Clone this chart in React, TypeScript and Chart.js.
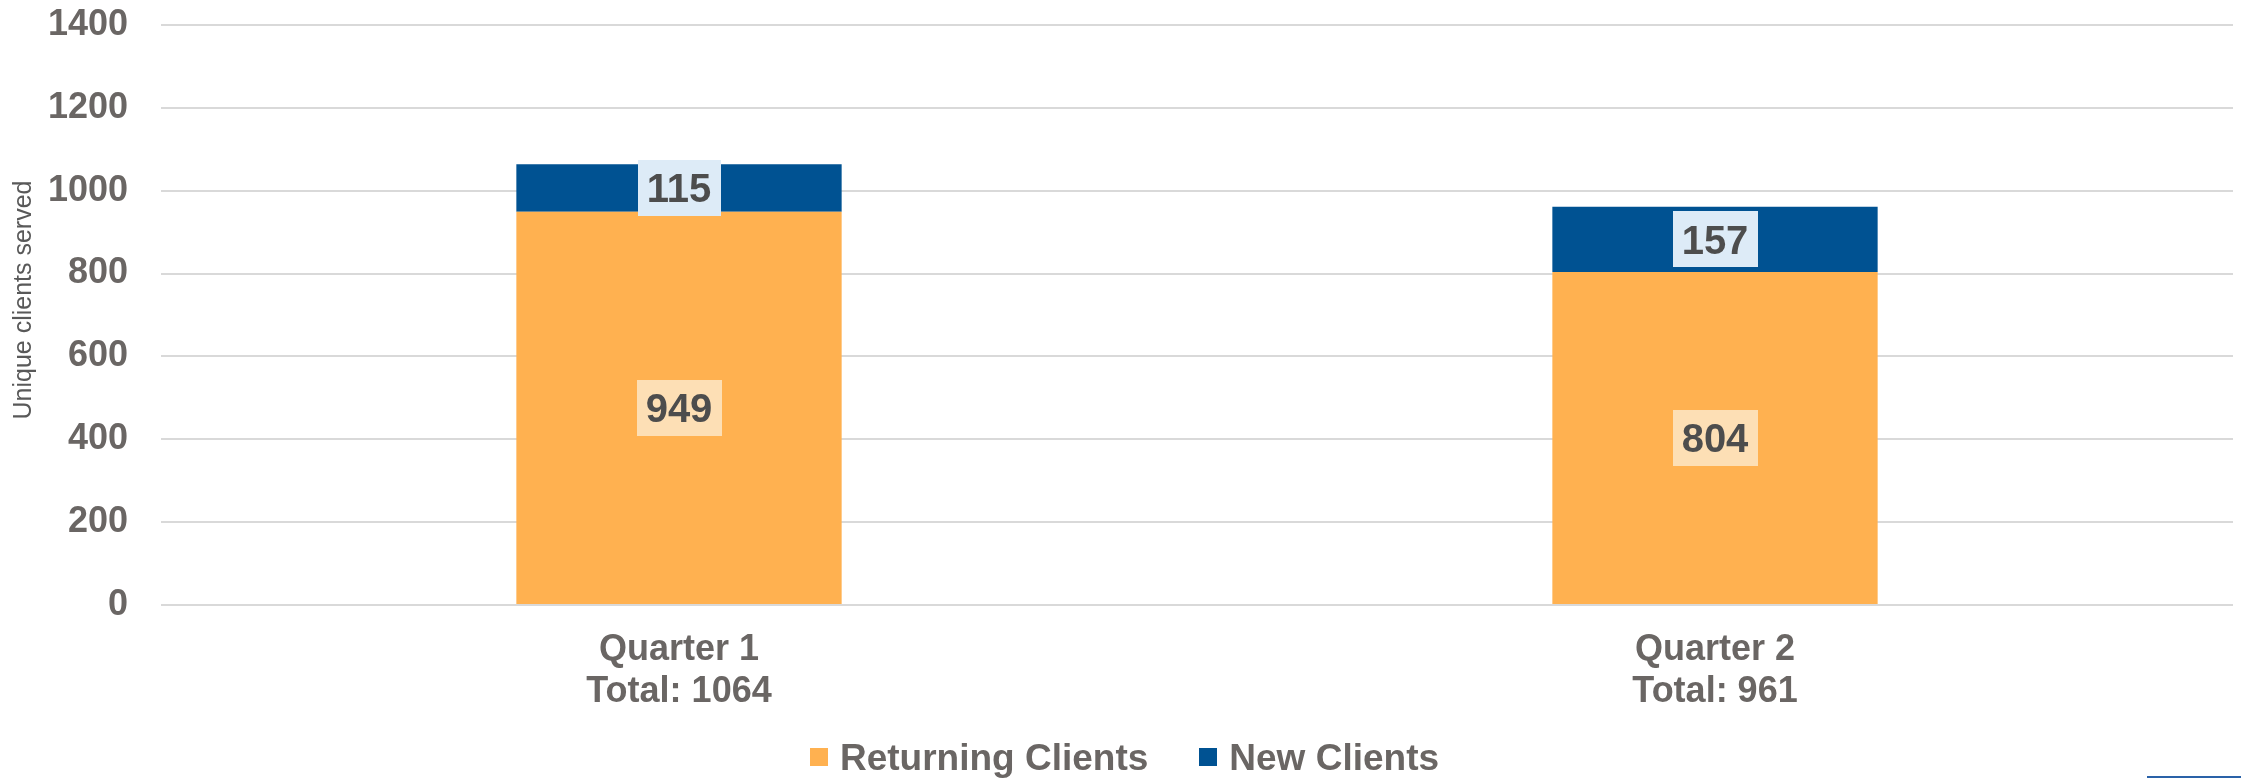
import React, { useEffect, useRef } from 'react';
import { Chart, registerables } from 'chart.js';

Chart.register(...registerables);

// ---- data ----
const quarters = ['Quarter 1', 'Quarter 2'];
const returningClients = [949, 804];
const newClients = [115, 157];
const seriesLabels = ['Returning Clients', 'New Clients'];
const yAxisTitle = 'Unique clients served';
const yMin = 0;
const yMax = 1400;
const yStep = 200;

// ---- styles ----
const FONT = '"Liberation Sans", Arial, Helvetica, sans-serif';
const ORANGE = '#FFB150';
const BLUE = '#005292';
const ORANGE_LABEL_BG = '#FDDFB5';
const BLUE_LABEL_BG = '#DDEBF7';
const TICK_COLOR = '#6A6664';
const LABEL_TEXT = '#4D4D4D';
const GRID = '#D9D9D9';

const totals = quarters.map((_, i) => returningClients[i] + newClients[i]);
const xLabels = quarters.map((q, i) => [q, `Total: ${totals[i]}`]);

const segLabelPlugin = {
  id: 'segLabels',
  afterDatasetsDraw(chart: any) {
    const ctx = chart.ctx;
    ctx.save();
    ctx.font = `bold 40px ${FONT}`;
    ctx.textAlign = 'center';
    ctx.textBaseline = 'alphabetic';
    chart.data.datasets.forEach((ds: any, di: number) => {
      const meta = chart.getDatasetMeta(di);
      meta.data.forEach((bar: any, i: number) => {
        const p = bar.getProps(['x', 'y', 'base'], true);
        const cy = (p.y + p.base) / 2;
        const text = String(ds.data[i]);
        const w = ctx.measureText(text).width + 18;
        const h = 56;
        ctx.fillStyle = ds.labelBg;
        ctx.fillRect(Math.round(p.x - w / 2), Math.round(cy - h / 2), Math.round(w), h);
        ctx.fillStyle = LABEL_TEXT;
        ctx.fillText(text, p.x, cy + (0.716 * 40) / 2);
      });
    });
    ctx.restore();
  },
};

const yTitlePlugin = {
  id: 'yTitle',
  afterDraw(chart: any) {
    const ctx = chart.ctx;
    ctx.save();
    ctx.translate(24, 300);
    ctx.rotate(-Math.PI / 2);
    ctx.font = `25px ${FONT}`;
    ctx.fillStyle = '#595959';
    ctx.textAlign = 'center';
    ctx.textBaseline = 'middle';
    ctx.fillText(yAxisTitle, 0, 0);
    ctx.restore();
  },
};

const legendPlugin = {
  id: 'customLegend',
  afterDraw(chart: any) {
    const ctx = chart.ctx;
    ctx.save();
    ctx.font = `bold 37px ${FONT}`;
    const box = 18;
    const gapText = 12;
    const gapItem = 51;
    const items = chart.data.datasets.map((ds: any) => ({
      label: ds.label,
      color: ds.backgroundColor,
      w: ctx.measureText(ds.label).width,
    }));
    const total =
      items.reduce((s: number, it: any) => s + box + gapText + it.w, 0) + gapItem * (items.length - 1);
    let x = chart.width / 2 + 4 - total / 2;
    const baseline = 770;
    items.forEach((it: any) => {
      ctx.fillStyle = it.color;
      ctx.fillRect(Math.round(x), 748, box, box);
      x += box + gapText;
      ctx.fillStyle = TICK_COLOR;
      ctx.textAlign = 'left';
      ctx.textBaseline = 'alphabetic';
      ctx.fillText(it.label, x, baseline);
      x += it.w + gapItem;
    });
    ctx.restore();
  },
};

export default function App() {
  const ref = useRef<HTMLCanvasElement | null>(null);

  useEffect(() => {
    if (!ref.current) return;
    const chart = new Chart(ref.current, {
      type: 'bar',
      data: {
        labels: xLabels as any,
        datasets: [
          {
            label: seriesLabels[0],
            data: returningClients,
            backgroundColor: ORANGE,
            borderWidth: 0,
            categoryPercentage: 0.314,
            barPercentage: 1,
            labelBg: ORANGE_LABEL_BG,
          } as any,
          {
            label: seriesLabels[1],
            data: newClients,
            backgroundColor: BLUE,
            borderWidth: 0,
            categoryPercentage: 0.314,
            barPercentage: 1,
            labelBg: BLUE_LABEL_BG,
          } as any,
        ],
      },
      options: {
        animation: false,
        responsive: false,
        devicePixelRatio: 1,
        layout: { padding: { top: 25, right: 8, left: 0, bottom: 0 } },
        plugins: {
          legend: { display: false },
          tooltip: { enabled: false },
        },
        scales: {
          x: {
            stacked: true,
            grid: { display: false, drawTicks: false },
            border: { display: false },
            ticks: {
              color: TICK_COLOR,
              padding: 24,
              maxRotation: 0,
              autoSkip: false,
              font: { family: FONT, size: 36, weight: 'bold', lineHeight: 1.17 },
            },
            afterFit: (s: any) => {
              s.height = 173;
              s.paddingLeft = 0;
              s.paddingRight = 0;
            },
          },
          y: {
            stacked: true,
            min: yMin,
            max: yMax,
            grid: { color: GRID, lineWidth: 2, drawTicks: false },
            border: { display: false },
            ticks: {
              stepSize: yStep,
              color: TICK_COLOR,
              padding: 33,
              font: { family: FONT, size: 36, weight: 'bold' },
              callback: (v: any) => String(v),
            },
            afterFit: (s: any) => {
              s.width = 161;
              s.paddingTop = 0;
              s.paddingBottom = 0;
            },
          },
        },
      },
      plugins: [segLabelPlugin, yTitlePlugin, legendPlugin],
    });
    return () => chart.destroy();
  }, []);

  return (
    <div style={{ position: 'absolute', left: 0, top: 0, width: 2241, height: 778, background: '#fff' }}>
      <canvas ref={ref} width={2241} height={778} style={{ width: 2241, height: 778, display: 'block' }} />
      <div style={{ position: 'absolute', left: 2147, top: 776, width: 94, height: 2, background: '#2A62A8' }} />
    </div>
  );
}
